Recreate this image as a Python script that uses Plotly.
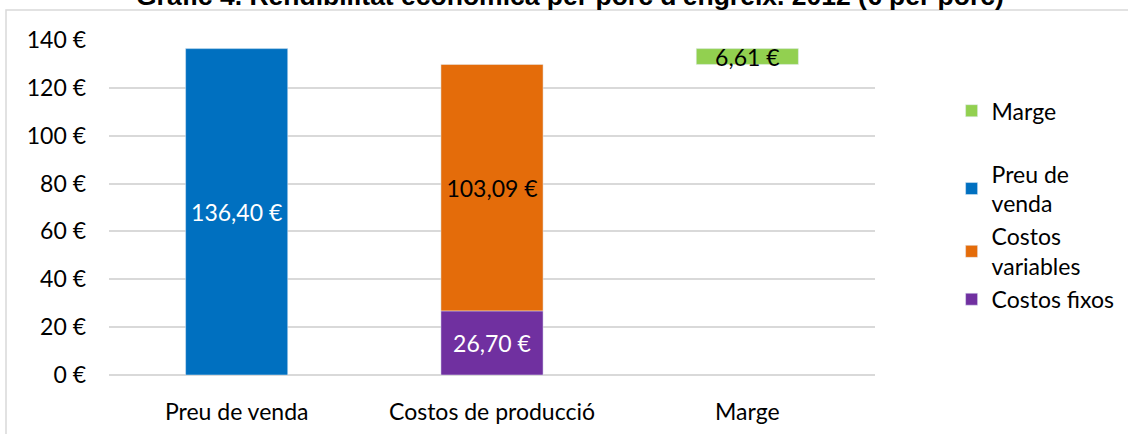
import plotly.graph_objects as go

# data
categories = ['Preu de venda', 'Costos de producció', 'Marge']
preu_venda = [136.40]
costos_fixos = [26.70]
costos_variables = [103.09]
marge = [6.61]

COLOURS = {
    'blue': '#0070C0',
    'orange': '#E46C0A',
    'purple': '#7030A0',
    'green': '#92D050',
    'grid': '#D9D9D9',
    'text': '#000000',
}
FONT = 'Lato'
TITLE = "Gràfic 4. Rendibilitat econòmica per porc d'engreix. 2012 (€ per porc)"


def euro(v):
    return f"{v:.2f}".replace('.', ',') + ' €'


fig = go.Figure()

# Marge floats on top of the production costs
marge_base = [costos_fixos[0] + costos_variables[0]]

fig.add_trace(go.Bar(
    x=[categories[2]], y=marge, base=marge_base, name='Marge',
    marker_color=COLOURS['green'], legendgroup='a',
    text=[euro(v) for v in marge], textfont=dict(color='black'),
))
fig.add_trace(go.Bar(
    x=[categories[0]], y=preu_venda, name='Preu de<br>venda',
    marker_color=COLOURS['blue'], legendgroup='b',
    text=[euro(v) for v in preu_venda], textfont=dict(color='white'),
))
fig.add_trace(go.Bar(
    x=[categories[1]], y=costos_variables, base=costos_fixos, name='Costos<br>variables',
    marker_color=COLOURS['orange'], legendgroup='b',
    text=[euro(v) for v in costos_variables], textfont=dict(color='black'),
))
fig.add_trace(go.Bar(
    x=[categories[1]], y=costos_fixos, name='Costos fixos',
    marker_color=COLOURS['purple'], legendgroup='b',
    text=[euro(v) for v in costos_fixos], textfont=dict(color='white'),
))

fig.update_traces(
    width=0.4,
    textposition='inside',
    insidetextanchor='middle',
    textangle=0,
    constraintext='none',
    hoverinfo='skip',
)

fig.update_layout(
    width=1128, height=434,
    margin=dict(l=109, r=253, t=40, b=59, autoexpand=False),
    barmode='overlay',
    paper_bgcolor='white',
    plot_bgcolor='white',
    font=dict(family=FONT, size=23, color=COLOURS['text']),
    legend=dict(
        x=1.1, xanchor='left',
        y=0.853, yanchor='top',
        traceorder='grouped',
        tracegroupgap=30,
        font=dict(family=FONT, size=23),
        bgcolor='rgba(0,0,0,0)',
    ),
    shapes=[dict(
        type='rect', xref='paper', yref='paper',
        x0=(6 - 109) / 766, x1=(1140 - 109) / 766,
        y0=(375 - 445) / 335, y1=(375 - 10) / 335,
        line=dict(color=COLOURS['grid'], width=1.5),
        fillcolor='rgba(0,0,0,0)', layer='below',
    )],
    # title is cut by the top edge, as in the source image
    annotations=[dict(
        text=f'<b>{TITLE}</b>',
        xref='paper', yref='paper',
        x=(570 - 109) / 766, y=(375 + 4) / 335,
        xanchor='center', yanchor='middle',
        showarrow=False,
        font=dict(family='Liberation Sans', size=26.5, color='black'),
    )],
)

fig.update_xaxes(
    categoryorder='array', categoryarray=categories,
    showline=False, automargin=False,
    ticks='outside', ticklen=16, tickcolor='rgba(0,0,0,0)',
    tickfont=dict(size=23),
)

fig.update_yaxes(
    range=[0, 140],
    dtick=20,
    ticksuffix=' €',
    automargin=False,
    gridcolor=COLOURS['grid'],
    gridwidth=1.5,
    zeroline=True,
    zerolinecolor=COLOURS['grid'],
    zerolinewidth=1.5,
    ticklabelstandoff=22,
    tickfont=dict(size=23),
)

fig.write_html(
    'out.html',
    config={'displayModeBar': False},
    post_script="document.body.style.margin='0';",
)
